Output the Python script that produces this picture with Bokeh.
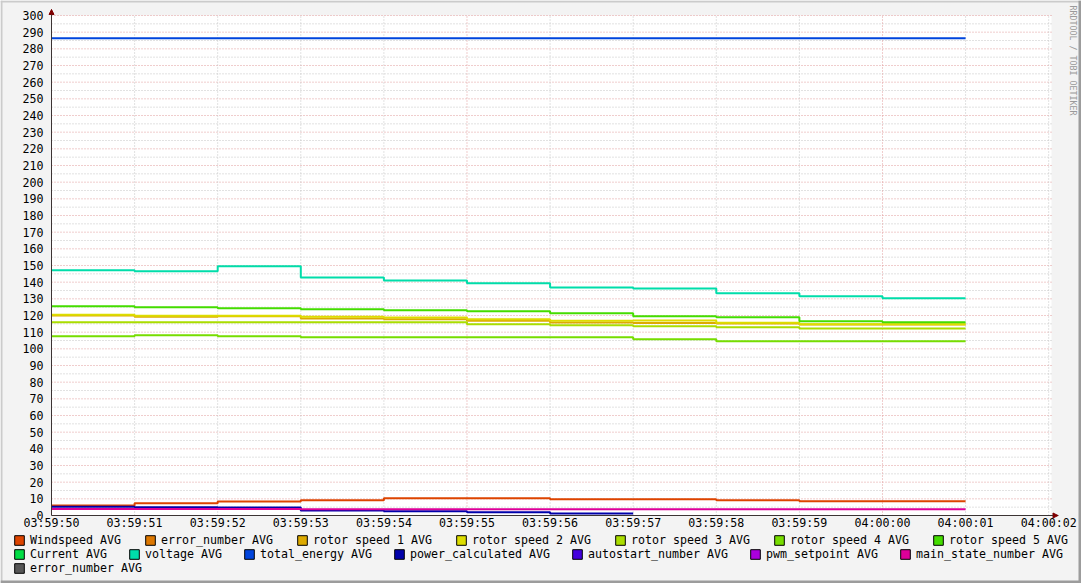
import math
from bokeh.plotting import figure
from bokeh.models import (Range1d, FixedTicker, Legend, LegendItem,
                          Arrow, NormalHead, Label, BoxAnnotation)
from bokeh.embed import file_html
from bokeh.resources import INLINE

# ---------------- data ----------------
x_tick_labels = ["03:59:50", "03:59:51", "03:59:52", "03:59:53", "03:59:54",
                 "03:59:55", "03:59:56", "03:59:57", "03:59:58", "03:59:59",
                 "04:00:00", "04:00:01", "04:00:02"]
step_starts = [0, 1, 2, 3, 4, 5, 6, 7, 8, 9, 10, 11]  # seconds after 03:59:50

windspeed = [6.0, 7.4, 8.4, 9.2, 10.4, 10.4, 9.8, 9.8, 9.2, 8.6, 8.6]
error_number = []
rotor_speed_1 = [120.0, 119.2, 119.5, 118.2, 117.8, 116.8, 115.8, 115.5, 115.2, 114.6, 114.6]
rotor_speed_2 = [120.4, 119.8, 119.8, 119.2, 118.8, 117.8, 116.8, 117.0, 115.6, 114.8, 114.8]
rotor_speed_3 = [116.0, 116.0, 116.0, 116.0, 116.0, 114.8, 114.2, 113.6, 113.0, 112.2, 112.2]
rotor_speed_4 = [107.6, 108.2, 107.6, 107.0, 107.0, 107.0, 107.0, 105.8, 104.6, 104.6, 104.6]
rotor_speed_5 = [125.6, 125.0, 124.4, 123.8, 123.2, 122.6, 121.4, 119.6, 119.0, 116.6, 116.0]
current = []
voltage = [147.2, 146.6, 149.6, 142.8, 141.0, 139.4, 136.8, 136.2, 133.4, 131.6, 130.4]
total_energy = [286.3] * 11
power_calculated = [5.2, 5.0, 4.8, 3.0, 2.6, 2.0, 1.2]
autostart_number = []
pwm_setpoint = []
main_state_number = [3.9, 3.9, 3.9, 3.7, 3.7, 3.7, 3.7, 3.7, 3.7, 3.7, 3.7]
error_number_2 = []

y_ticks = list(range(0, 301, 10))

series = [
    ("Windspeed AVG", "#dd4400", windspeed),
    ("error_number AVG", "#dd7700", error_number),
    ("rotor speed 1 AVG", "#ddaa00", rotor_speed_1),
    ("rotor speed 2 AVG", "#dddd00", rotor_speed_2),
    ("rotor speed 3 AVG", "#aadd00", rotor_speed_3),
    ("rotor speed 4 AVG", "#77dd00", rotor_speed_4),
    ("rotor speed 5 AVG", "#44dd00", rotor_speed_5),
    ("Current AVG", "#00dd44", current),
    ("voltage AVG", "#00ddaa", voltage),
    ("total_energy AVG", "#0044dd", total_energy),
    ("power_calculated AVG", "#0000aa", power_calculated),
    ("autostart_number AVG", "#4400dd", autostart_number),
    ("pwm_setpoint AVG", "#aa00dd", pwm_setpoint),
    ("main_state_number AVG", "#dd0099", main_state_number),
    ("error_number AVG", "#555555", error_number_2),
]
legend_rows = [7, 7, 1]

# ---------------- layout geometry (pixels) ----------------
W, H = 1081, 583
GX0, GX1 = 51, 1051      # graph area left/right
GY0, GY1 = 515, 15       # graph area bottom/top
x_span = 12.034          # seconds shown in graph area
y_max = 300
sx_per = (GX1 - GX0) / x_span
sy_per = (GY0 - GY1) / y_max


def px2x(px):
    return (px - GX0) / sx_per


def py2y(py):
    return (GY0 - py) / sy_per


FONT = "DejaVu Sans Mono"
FSIZE = 11.63
AXIS_COLOR = "#3c3434"
ARROW_COLOR = "#7f0000"
NAN = float("nan")

p = figure(width=W, height=H, output_backend="svg", toolbar_location=None,
           x_range=Range1d(px2x(0), px2x(W)), y_range=Range1d(py2y(H), py2y(0)),
           min_border=0, min_border_left=0, min_border_right=0,
           min_border_top=0, min_border_bottom=0)
p.title.visible = False
p.border_fill_color = "#f3f3f3"
p.background_fill_color = "#f3f3f3"
p.outline_line_color = None
p.xgrid.visible = False
p.ygrid.visible = False

# canvas (white graph area) and image border shading
p.add_layout(BoxAnnotation(left=0, right=x_span, bottom=0, top=y_max,
                           fill_color="white", fill_alpha=1, line_color=None,
                           level="underlay"))
for l, r, b, t, c in [(0, W, 2, 0, "#cbcbcb"), (0, 2, H, 0, "#cbcbcb"),
                      (W - 3, W, H, 0, "#9c9c9c"), (0, W, H, H - 3, "#9c9c9c")]:
    p.add_layout(BoxAnnotation(left=px2x(l), right=px2x(r), bottom=py2y(b), top=py2y(t),
                               fill_color=c, fill_alpha=1, line_color=None,
                               level="underlay"))

# grid lines (dotted), limited to graph area
minor_y = [v + 5 for v in y_ticks[:-1]]
major_y = y_ticks[1:]
major_x = [i for i in range(1, len(x_tick_labels)) if i % 5 == 0]
minor_x = [i for i in range(1, len(x_tick_labels)) if i % 5 != 0]
for ys, col in [(minor_y, "#c4c4c4"), (major_y, "#e09a9a")]:
    p.segment(x0=[0] * len(ys), x1=[x_span] * len(ys), y0=ys, y1=ys,
              line_color=col, line_width=1, line_dash="1 2")
for xs, col in [(minor_x, "#c4c4c4"), (major_x, "#e09a9a")]:
    p.segment(x0=xs, x1=xs, y0=[0] * len(xs), y1=[y_max] * len(xs),
              line_color=col, line_width=1, line_dash="1 2")

# axes fixed at the graph origin
x_tip = px2x(1057.5)
y_tip = py2y(9)
for ax in (p.xaxis[0], p.yaxis[0]):
    ax.fixed_location = 0
    ax.axis_line_color = AXIS_COLOR
    ax.axis_line_width = 1
    ax.major_tick_line_color = None
    ax.minor_tick_line_color = None
    ax.major_tick_out = 0
    ax.major_tick_in = 0
    ax.major_label_text_font = FONT
    ax.major_label_text_font_size = f"{FSIZE}px"
    ax.major_label_text_color = "black"
p.xaxis.bounds = (0, x_tip)
p.yaxis.bounds = (0, y_tip)
p.xaxis.ticker = FixedTicker(ticks=list(range(len(x_tick_labels))))
p.xaxis.major_label_overrides = {i: t for i, t in enumerate(x_tick_labels)}
p.xaxis.major_label_standoff = 0
p.yaxis.ticker = FixedTicker(ticks=y_ticks)
p.yaxis.major_label_standoff = 8

# data lines + legend swatches
swatches = []
for label, color, vals in series:
    if vals:
        xs = step_starts[:len(vals) + 1]
        ys = list(vals) + [vals[-1]]
        p.step(xs, ys, mode="after", line_color=color, line_width=2)
    sw = p.quad(left=[NAN], right=[NAN], top=[NAN], bottom=[NAN], fill_color=color,
                fill_alpha=1, line_color="black", line_width=1)
    swatches.append((label, sw))

# arrow heads
p.add_layout(Arrow(end=NormalHead(size=5, fill_color=ARROW_COLOR, line_color=ARROW_COLOR),
                   x_start=x_span, y_start=0, x_end=x_tip, y_end=0,
                   line_color=AXIS_COLOR, line_width=1))
p.add_layout(Arrow(end=NormalHead(size=5, fill_color=ARROW_COLOR, line_color=ARROW_COLOR),
                   x_start=0, y_start=y_max, x_end=0, y_end=y_tip,
                   line_color=AXIS_COLOR, line_width=1))

# legends: justified rows like rrdtool
char_w = 0.602 * FSIZE
glyph_w = 12
standoff = 5
text_left = 30.0
text_right = 1066.0
row_centers = [540.5, 554.5, 568.5]
h = 12
idx = 0
for r, n in enumerate(legend_rows):
    row = swatches[idx:idx + n]
    idx += n
    widths = [len(lbl) * char_w for lbl, _ in row]
    if n > 1:
        glue = (text_right - text_left - sum(widths)) / (n - 1)
    else:
        glue = 30.0
    spacing = int(round(glue - glyph_w - standoff))
    lg = Legend(items=[LegendItem(label=lbl, renderers=[rr], index=0) for lbl, rr in row],
                orientation="horizontal",
                location=(text_left - glyph_w - standoff, H - (row_centers[r] + h / 2)),
                glyph_width=glyph_w, glyph_height=12, label_height=12,
                label_standoff=standoff, spacing=spacing, padding=0, margin=0,
                border_line_color=None, background_fill_alpha=0,
                label_text_font=FONT, label_text_font_size=f"{FSIZE}px",
                label_text_color="black")
    p.add_layout(lg)

p.add_layout(Label(x=px2x(1072), y=py2y(5), text="RRDTOOL / TOBI OETIKER",
                   angle=-math.pi / 2, text_align="left", text_baseline="middle",
                   text_font=FONT, text_font_size="8.3px", text_color="#9a9a9a"))

open("out.html", "w").write(file_html(p, INLINE))
